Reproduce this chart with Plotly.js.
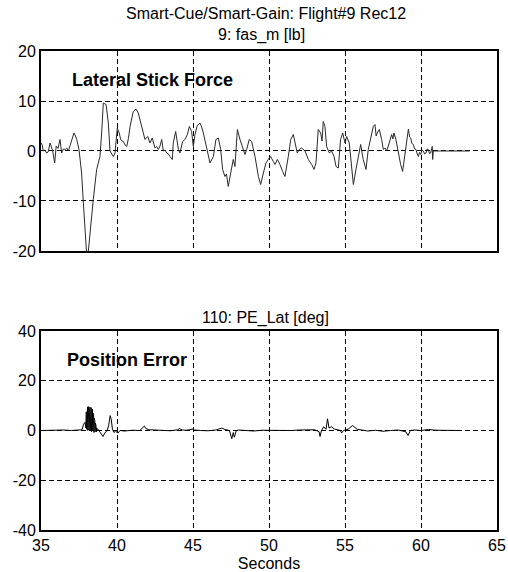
<!DOCTYPE html>
<html>
<head>
<meta charset="utf-8">
<script src="https://cdn.plot.ly/plotly-3.0.1.min.js"></script>
<style>
  html, body { margin: 0; padding: 0; background: #fff; }
  #chart { width: 508px; height: 572px; }
</style>
</head>
<body>
<div id="chart"></div>
<script>
// Lateral stick force, channel 9 (fas_m) [lb]
const forceTime = [
  35.00, 35.08, 35.15, 35.25, 35.37, 35.47, 35.60, 35.68, 35.77, 35.90, 36.00, 36.12, 36.25, 36.36, 36.47, 36.60,
  36.70, 36.80, 36.95, 37.05, 37.17, 37.27, 37.35, 37.50, 37.67, 37.80, 37.90, 38.00, 38.10, 38.22, 38.44, 38.66,
  38.88, 38.99, 39.10, 39.28, 39.43, 39.54, 39.65, 39.76, 39.87, 40.02, 40.15, 40.24, 40.33, 40.42, 40.53, 40.64,
  40.75, 40.86, 41.07, 41.25, 41.40, 41.62, 41.84, 42.02, 42.17, 42.32, 42.50, 42.61, 42.72, 42.83, 42.94, 43.05,
  43.16, 43.27, 43.38, 43.49, 43.64, 43.70, 43.86, 44.04, 44.14, 44.32, 44.47, 44.63, 44.76, 44.91, 45.02, 45.13,
  45.28, 45.46, 45.57, 45.68, 45.90, 46.12, 46.34, 46.51, 46.67, 46.82, 46.95, 47.10, 47.20, 47.32, 47.48, 47.65,
  47.76, 47.92, 48.09, 48.20, 48.31, 48.42, 48.53, 48.70, 48.86, 49.08, 49.30, 49.45, 49.63, 49.80, 49.95, 50.11,
  50.28, 50.39, 50.55, 50.72, 50.90, 51.05, 51.27, 51.43, 51.60, 51.71, 51.86, 51.99, 52.15, 52.37, 52.59, 52.81,
  52.96, 53.09, 53.24, 53.40, 53.49, 53.57, 53.68, 53.79, 53.97, 54.12, 54.28, 54.41, 54.56, 54.71, 54.85, 55.00,
  55.11, 55.28, 55.44, 55.55, 55.72, 55.88, 56.03, 56.20, 56.38, 56.53, 56.71, 56.86, 56.97, 57.05, 57.12, 57.26,
  57.41, 57.52, 57.63, 57.74, 57.91, 58.07, 58.15, 58.22, 58.35, 58.51, 58.66, 58.79, 58.95, 59.06, 59.17, 59.25,
  59.32, 59.40, 59.50, 59.58, 59.67, 59.75, 59.83, 59.90, 59.98, 60.06, 60.15, 60.24, 60.33, 60.40, 60.48, 60.56,
  60.64, 60.70, 60.74, 60.77, 60.81, 61.50, 62.40, 63.20
];
const forceLb = [
   1.6,  1.2,  0.0,  0.2, -0.4, -0.2,  1.6,  1.0,  0.0, -2.4,  1.0,  0.5,  2.3, -0.4,  0.4,  0.3,
   0.6,  0.0,  1.6,  2.2,  3.6,  3.0,  2.3,  0.3, -4.4, -11.0, -16.4, -20.5, -20.5, -16.4, -9.7, -3.7,
  -1.1,  3.6,  9.6,  9.3,  5.6,  0.0, -0.6, -1.1, -0.4,  4.6,  3.6,  2.3,  2.0,  1.9,  1.2,  0.9,
   2.5,  4.9,  7.9,  8.4,  7.6,  4.9,  2.3,  2.9,  1.6,  2.6,  0.6,  0.9,  0.3,  1.0,  2.3,  0.0,
   0.2, -0.4, -0.6, -1.1, -1.7,  1.6,  3.9,  0.3, -0.4,  1.9,  2.3,  3.3,  4.9,  3.9,  0.9,  3.3,
   5.1,  5.6,  4.8,  3.6,  0.9, -2.4, -1.1,  2.3,  2.6,  0.3, -3.7, -5.1, -4.6, -7.1, -4.4, -1.7,
  -3.1,  4.3,  2.3,  1.2,  0.0, -0.7,  0.3,  2.3,  1.9, -1.1, -5.1, -6.7, -4.4, -2.4, -1.7, -1.1,
  -2.1, -2.7, -1.7, -2.7, -4.1, -5.1, -1.1,  2.3,  3.3,  1.6, -0.4,  0.3,  0.6,  0.0, -1.7, -2.7,
  -3.7, -2.4,  4.3,  3.6,  2.0,  5.9,  4.9,  0.9, -0.4,  0.0, -1.1, -3.1, -3.4,  2.3,  3.6,  1.6,
   2.9,  1.6, -4.4, -6.7, -3.7, -1.1,  1.3, -1.7, -3.7,  0.3,  2.9,  4.9,  5.3,  3.0,  3.6,  4.3,
   2.3,  0.3,  0.6,  0.0,  1.6,  3.3,  2.4,  3.6,  2.3, -0.7, -2.7, -4.1, -0.4,  2.3,  4.4,  2.8,
   2.6,  1.5,  1.3,  0.4,  0.3, -0.6, -1.1, -0.3, -0.7,  0.2,  0.0, -0.6, -0.4,  0.4,  0.3, -0.5,
  -0.4,  0.5,  0.9, -1.7,  0.0,  0.0,  0.0,  0.0
];

// Lateral position error, channel 110 (PE_Lat) [deg]
const errTime = [
  35.00, 35.50, 36.00, 36.50, 37.00, 37.50, 37.70, 37.80, 37.90, 37.95, 37.98, 38.00, 38.02, 38.04, 38.06, 38.08,
  38.10, 38.12, 38.14, 38.16, 38.18, 38.20, 38.22, 38.24, 38.26, 38.28, 38.30, 38.32, 38.34, 38.36, 38.38, 38.40,
  38.42, 38.44, 38.46, 38.48, 38.50, 38.52, 38.54, 38.56, 38.58, 38.60, 38.62, 38.64, 38.66, 38.70, 38.75, 38.85,
  39.00, 39.08, 39.20, 39.35, 39.45, 39.55, 39.62, 39.70, 39.80, 39.90, 40.07, 40.20, 40.50, 41.00, 41.50, 41.80,
  41.90, 42.10, 42.50, 43.00, 43.50, 44.00, 44.10, 44.30, 44.60, 45.00, 45.10, 45.50, 46.00, 46.50, 46.90, 47.10,
  47.40, 47.55, 47.65, 47.72, 47.85, 48.00, 48.50, 49.00, 49.50, 50.00, 50.50, 51.00, 51.50, 52.00, 52.50, 53.00,
  53.30, 53.36, 53.45, 53.60, 53.75, 53.85, 53.95, 54.10, 54.30, 54.50, 54.70, 54.78, 54.90, 55.20, 55.50, 55.80,
  56.00, 56.50, 57.00, 57.50, 58.00, 58.50, 59.00, 59.15, 59.30, 59.60, 60.00, 60.50, 61.00, 61.50, 62.00, 62.70
];
const errDeg = [
   0.0,  0.1, -0.1,  0.2,  0.0,  0.1,  0.3,  2.5,  3.3,  1.0,  7.5,  0.5,  9.0,  1.0,  9.5,  0.0,
   8.5,  0.5,  9.6,  0.2,  9.0,  1.0,  9.4,  0.0,  8.8,  0.5,  9.2, -0.5,  8.0,  0.3,  8.6,  0.0,
   7.0,  0.5,  6.5, -0.8,  5.0,  0.2,  4.0, -0.5,  3.0,  0.4,  2.0, -0.6,  1.0,  0.5,  0.5, -0.5,
  -1.5, -2.4, -1.0,  0.0,  2.0,  6.0,  4.5,  0.5, -0.8, -0.3, -1.0,  0.0, -0.2,  0.1,  0.0,  1.8,
   0.8,  0.3,  0.2,  0.0, -0.1,  0.3,  0.8,  0.2,  0.1,  0.6,  0.2,  0.0, -0.1,  0.2,  1.0,  0.4,
   0.0, -3.3, -0.8, -2.7,  0.0,  0.2,  0.0, -0.2,  0.1,  0.0, -0.1,  0.1,  0.0,  0.2,  0.1,  0.3,
  -0.5, -2.4,  0.0,  1.5,  0.5,  4.7,  1.0,  1.5,  0.6,  0.2,  0.0, -1.0,  0.0,  0.5,  2.0,  0.5,
   0.3, -0.2,  0.1, -0.3,  0.0,  0.2, -0.5, -2.0,  0.0,  0.2,  0.0,  0.4,  0.1,  0.0,  0.0,  0.0
];

// Tick positions and their printed labels (plain hyphen minus)
const xTicks = [35, 40, 45, 50, 55, 60, 65];
const forceTicks = [-20, -10, 0, 10, 20];
const forceTickText = ['-20', '-10', '0', '10', '20'];
const errTicks = [-40, -20, 0, 20, 40];
const errTickText = ['-40', '-20', '0', '20', '40'];

const FONT = 'Liberation Sans, Arial, Helvetica, sans-serif';

const frameAxis = {
  showline: true, mirror: true, linecolor: '#000', linewidth: 2,
  showgrid: true, gridcolor: '#000', gridwidth: 1, griddash: '5px,3px',
  zeroline: false, ticks: '', fixedrange: true
};

const traces = [
  {
    x: forceTime, y: forceLb, xaxis: 'x', yaxis: 'y',
    type: 'scatter', mode: 'lines',
    line: { color: '#2a2a2a', width: 1 }, hoverinfo: 'skip'
  },
  {
    x: errTime, y: errDeg, xaxis: 'x2', yaxis: 'y2',
    type: 'scatter', mode: 'lines',
    line: { color: '#000', width: 1 }, hoverinfo: 'skip'
  }
];

const layout = {
  width: 508, height: 572,
  margin: { l: 41, r: 11, t: 51, b: 42 },
  paper_bgcolor: '#fff', plot_bgcolor: '#fff',
  showlegend: false,
  font: { family: FONT, size: 16, color: '#000' },
  xaxis: Object.assign({}, frameAxis, {
    domain: [0, 1], anchor: 'y', range: [35, 65],
    tickvals: xTicks, showticklabels: false
  }),
  yaxis: Object.assign({}, frameAxis, {
    domain: [0.5825, 1], anchor: 'x', range: [-20, 20],
    tickvals: forceTicks, ticktext: forceTickText
  }),
  xaxis2: Object.assign({}, frameAxis, {
    domain: [0, 1], anchor: 'y2', range: [35, 65],
    tickvals: xTicks,
    title: { text: 'Seconds', font: { family: FONT, size: 16 }, standoff: 6 }
  }),
  yaxis2: Object.assign({}, frameAxis, {
    domain: [0, 0.4154], anchor: 'x2', range: [-40, 40],
    tickvals: errTicks, ticktext: errTickText
  }),
  annotations: [
    { text: 'Smart-Cue/Smart-Gain: Flight#9 Rec12', xref: 'paper', yref: 'paper',
      x: 0.494, y: 1.079, xanchor: 'center', yanchor: 'middle', showarrow: false,
      font: { family: FONT, size: 16 } },
    { text: '9: fas_m [lb]', xref: 'paper', yref: 'paper',
      x: 0.484, y: 1.033, xanchor: 'center', yanchor: 'middle', showarrow: false,
      font: { family: FONT, size: 16 } },
    { text: '110: PE_Lat [deg]', xref: 'paper', yref: 'paper',
      x: 0.492, y: 0.4426, xanchor: 'center', yanchor: 'middle', showarrow: false,
      font: { family: FONT, size: 16 } },
    { text: '<b>Lateral Stick Force</b>', xref: 'x', yref: 'y',
      x: 36.9, y: 14.2, xanchor: 'left', yanchor: 'middle', showarrow: false,
      font: { family: FONT, size: 18 } },
    { text: '<b>Position Error</b>', xref: 'x2', yref: 'y2',
      x: 36.58, y: 28.4, xanchor: 'left', yanchor: 'middle', showarrow: false,
      font: { family: FONT, size: 18 } }
  ]
};

Plotly.newPlot('chart', traces, layout, { staticPlot: true, displayModeBar: false });
</script>
</body>
</html>
